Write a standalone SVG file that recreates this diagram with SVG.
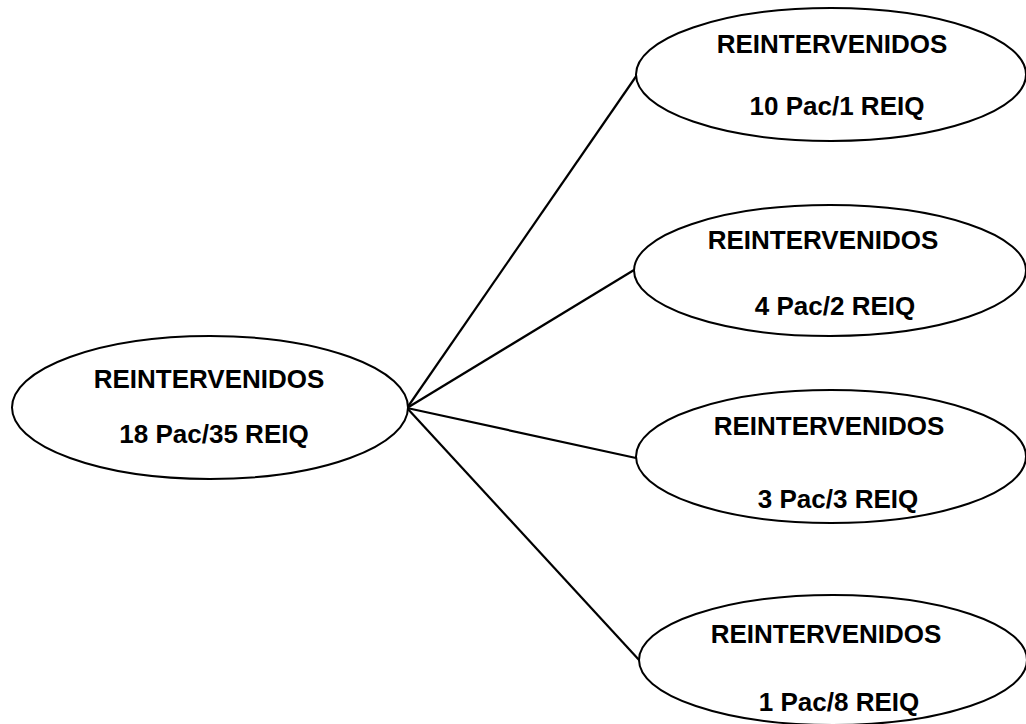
<svg xmlns="http://www.w3.org/2000/svg" width="1026" height="724" viewBox="0 0 1026 724">
  <style>
    .node ellipse { fill: #ffffff; stroke: #000000; stroke-width: 2; }
    .node text { font-family: "Liberation Sans", Arial, sans-serif; font-weight: bold; font-size: 26px; fill: #000000; text-anchor: middle; }
    #connectors line { stroke: #000000; stroke-width: 2.2; }
  </style>
  <rect width="1026" height="724" fill="#ffffff"/>

  <g id="connectors">
    <line x1="407" y1="408" x2="637" y2="75"/>
    <line x1="407" y1="408" x2="634" y2="270"/>
    <line x1="407" y1="408" x2="636" y2="458"/>
    <line x1="407" y1="408" x2="640" y2="661"/>
  </g>

  <g id="root" class="node">
    <ellipse cx="210" cy="407.5" rx="198" ry="71.5"/>
    <text x="209" y="388">REINTERVENIDOS</text>
    <text x="214" y="443">18 Pac/35 REIQ</text>
  </g>

  <g id="group1" class="node">
    <ellipse cx="831" cy="74.5" rx="195" ry="66.5"/>
    <text x="832" y="53">REINTERVENIDOS</text>
    <text x="837" y="115">10 Pac/1 REIQ</text>
  </g>

  <g id="group2" class="node">
    <ellipse cx="830" cy="270.5" rx="196" ry="65.5"/>
    <text x="823" y="249">REINTERVENIDOS</text>
    <text x="835" y="315">4 Pac/2 REIQ</text>
  </g>

  <g id="group3" class="node">
    <ellipse cx="831" cy="456.5" rx="195" ry="66.5"/>
    <text x="829" y="435">REINTERVENIDOS</text>
    <text x="838" y="508">3 Pac/3 REIQ</text>
  </g>

  <g id="group4" class="node">
    <ellipse cx="833" cy="660" rx="194" ry="65"/>
    <text x="826" y="643">REINTERVENIDOS</text>
    <text x="839" y="711">1 Pac/8 REIQ</text>
  </g>
</svg>
